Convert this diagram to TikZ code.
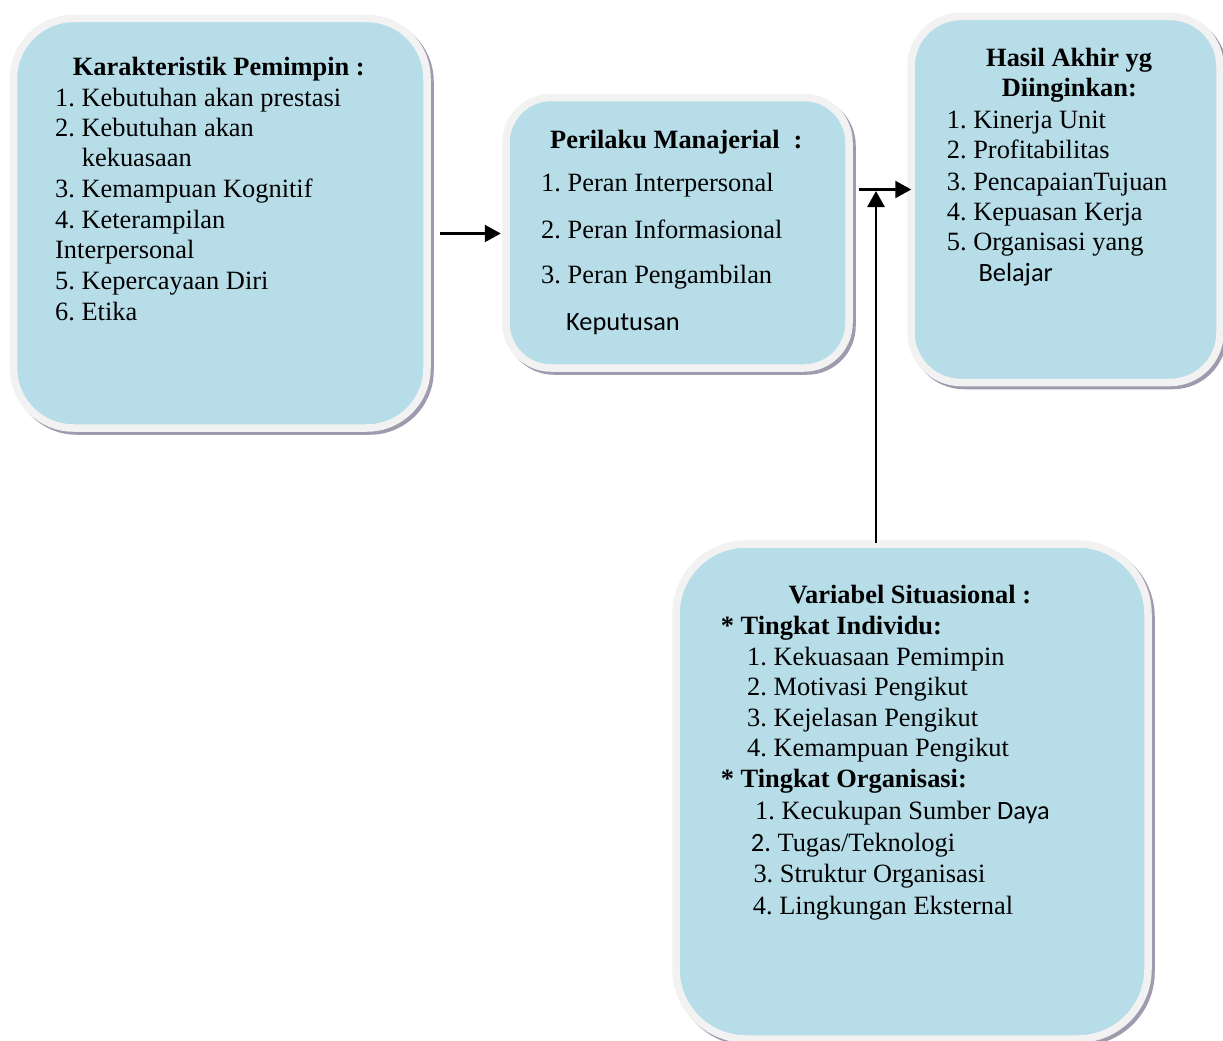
\documentclass[tikz,border=0pt]{standalone}
\usepackage{fontspec}
\setmainfont{Liberation Serif}
\newfontfamily\calfont{Carlito}
\usetikzlibrary{arrows.meta,calc}
\definecolor{boxblue}{HTML}{B7DDE8}
\definecolor{ringc}{HTML}{F2F2F2}
\definecolor{shadowc}{RGB}{160,154,174}
\frenchspacing
\begin{document}
\frenchspacing
\begin{tikzpicture}[x=1pt,y=-1pt,
  box/.style={draw=ringc, line width=7.5pt, fill=boxblue, inner sep=0pt, rectangle,
    preaction={draw=shadowc, fill=shadowc, line width=7.5pt,
      transform canvas={shift={(3pt,-3pt)}}}},
  txt/.style={anchor=base west, inner sep=0pt, font=\fontsize{26.4}{30.5}\selectfont\frenchspacing},
  ttl/.style={anchor=base west, inner sep=0pt, font=\fontsize{26.4}{30.5}\selectfont\bfseries\frenchspacing},
  arr/.style={line width=2.3pt, -{Triangle[length=16pt,width=17pt]}}]
\useasboundingbox (0,0) rectangle (1223,1041);
\fill[white] (0,0) rectangle (1223,1041);
\clip (0,0) rectangle (1223,1041);

% boxes
\node[box, rounded corners=60pt, minimum width=413.5pt, minimum height=409.5pt] (b1) at (220.25,223.25) {};
\node[box, rounded corners=45pt, minimum width=343pt, minimum height=270.5pt] (b2) at (677.5,232.75) {};
\node[box, rounded corners=50pt, minimum width=309pt, minimum height=366pt] (b3) at (1065.5,199.5) {};
\node[box, rounded corners=70pt, minimum width=472pt, minimum height=495pt] (b4) at (912,791.5) {};

% box 1 text
\node[ttl] (t1) at (72.7,75) {Karakteristik Pemimpin :};
\node[txt] (t1a) at (55,106.7) {1. Kebutuhan akan prestasi};
\node[txt] (t1b) at (55,136.7) {2. Kebutuhan akan};
\node[txt] (t1c) at (81.7,166.7) {kekuasaan};
\node[txt] (t1d) at (55,197.3) {3. Kemampuan Kognitif};
\node[txt] (t1e) at (55,228.3) {4. Keterampilan};
\node[txt] (t1f) at (55,258.3) {Interpersonal};
\node[txt] (t1g) at (55,289.3) {5. Kepercayaan Diri};
\node[txt] (t1h) at (55,320) {6. Etika};

% box 2 text
\node[ttl] (t2) at (550,148.3) {Perilaku Manajerial\hspace{14pt}:};
\node[txt] (t2a) at (541,191.7) {1. Peran Interpersonal};
\node[txt] (t2b) at (541,238.3) {2. Peran Informasional};
\node[txt] (t2c) at (541,283.3) {3. Peran Pengambilan};
\node[txt] (t2d) at (566,330) {\calfont Keputusan};

% box 3 text
\node[ttl] (t3) at (986,66.7) {Hasil Akhir yg};
\node[ttl] (t3x) at (1001.7,96.7) {Diinginkan:};
\node[txt] (t3a) at (946.7,128.3) {1. Kinerja Unit};
\node[txt] (t3b) at (946.7,158.3) {2. Profitabilitas};
\node[txt] (t3c) at (946.7,190) {3. PencapaianTujuan};
\node[txt] (t3d) at (946.7,220) {4. Kepuasan Kerja};
\node[txt] (t3e) at (946.7,250) {5. Organisasi yang};
\node[txt] (t3f) at (978.3,281.7) {\calfont Belajar};

% box 4 text
\node[ttl] (t4) at (788.3,603.3) {Variabel Situasional :};
\node[ttl] (t4i) at (720.7,634) {* Tingkat Individu:};
\node[txt] (t4a) at (747,665) {1. Kekuasaan Pemimpin};
\node[txt] (t4b) at (747,695.7) {2. Motivasi Pengikut};
\node[txt] (t4c) at (747,726) {3. Kejelasan Pengikut};
\node[txt] (t4d) at (747,756.7) {4. Kemampuan Pengikut};
\node[ttl] (t4o) at (720.7,787.3) {* Tingkat Organisasi:};
\node[txt] (t4e) at (755,819.3) {1. Kecukupan Sumber {\calfont Daya}};
\node[txt] (t4f) at (750.7,851.7) {{\calfont 2.} Tugas/Teknologi};
\node[txt] (t4g) at (753.3,882.7) {3. Struktur Organisasi};
\node[txt] (t4h) at (752.7,914) {4. Lingkungan Eksternal};

% connectors
\coordinate (y1) at (0,233.5);
\coordinate (y2) at (0,189.5);
\coordinate (j) at (876,191);
\draw[arr] ($(b1.east |- y1)+(9.5,0)$) -- ($(b2.west |- y1)+(-1.5,0)$);
\draw[arr] ($(b2.east |- y2)+(6,0)$) -- ($(b3.west |- y2)+(4,0)$);
\draw[arr, line width=2.8pt] ($(j |- b4.north)+(0,3)$) -- (j);
\end{tikzpicture}
\end{document}
